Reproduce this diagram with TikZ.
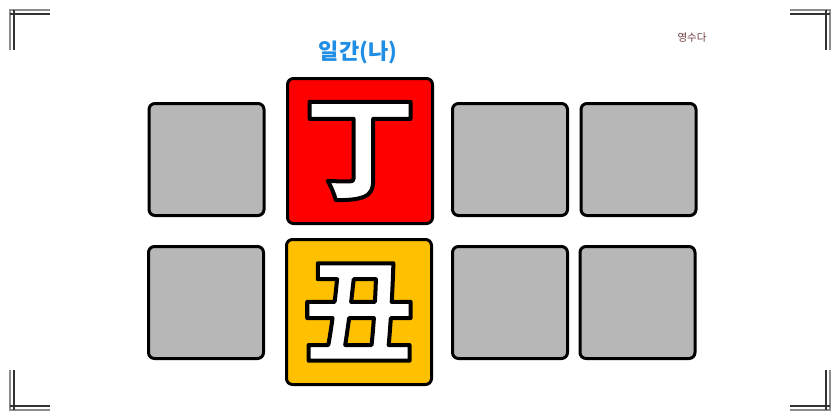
\documentclass[tikz,border=0pt]{standalone}
\usepackage{fontspec}
\newfontfamily\cjk{Noto Sans CJK KR}
\newcommand{\outlinedglyph}[1]{\special{pdf:code q 2 Tr 4 w 0 0 0 RG 1 j}#1\special{pdf:code Q}}
\definecolor{boxgray}{RGB}{183,183,183}
\definecolor{firered}{RGB}{255,0,0}
\definecolor{earthyellow}{RGB}{255,192,0}
\definecolor{labelblue}{RGB}{32,142,228}
\definecolor{signbrown}{RGB}{110,60,60}
\definecolor{markgray}{RGB}{140,140,140}
\definecolor{markdark}{RGB}{50,50,50}
\tikzset{
  pillar/.style={draw=black, line width=3pt, rounded corners=6pt, inner sep=0pt},
  graybox/.style={pillar, fill=boxgray, minimum width=115pt, minimum height=112pt},
  bigbox/.style={pillar, minimum width=145pt, minimum height=145pt, text=white,
    font=\cjk\bfseries\fontsize{112}{116}\selectfont},
  outer/.style={draw=markgray, line width=1.8pt},
  inner/.style={draw=markdark, line width=1.6pt}
}
\begin{document}
\begin{tikzpicture}[x=1pt,y=-1pt]
\useasboundingbox (0,0) rectangle (840,420);
% corner marks
\draw[outer] (10,50) -- (10,10) -- (50,10);
\draw[inner] (14,10) -- (14,50);
\draw[inner] (10,14) -- (50,14);
\draw[outer] (790,10) -- (830,10) -- (830,50);
\draw[inner] (826,10) -- (826,50);
\draw[inner] (790,14) -- (830,14);
\draw[outer] (10,370) -- (10,410) -- (50,410);
\draw[inner] (14,370) -- (14,410);
\draw[inner] (10,406) -- (50,406);
\draw[outer] (790,410) -- (830,410) -- (830,370);
\draw[inner] (826,370) -- (826,410);
\draw[inner] (790,406) -- (830,406);
% labels
\node[font=\cjk\bfseries\fontsize{22}{25}\selectfont, text=labelblue] (lbl) at (358,52) {일간(나)};
\node[font=\cjk\fontsize{10.5}{12}\selectfont, text=signbrown] (sign) at (692,38) {영수다};
% top row
\node[graybox] (t1) at (206.5,159.5) {};
\node[bigbox, fill=firered] (t2) at (360,151) {\outlinedglyph{丁}};
\node[graybox] (t3) at (510,159.5) {};
\node[graybox] (t4) at (638.5,159.5) {};
% bottom row
\node[graybox] (b1) at (206,302.5) {};
\node[bigbox, fill=earthyellow] (b2) at (359,312) {\outlinedglyph{丑}};
\node[graybox] (b3) at (510,302.5) {};
\node[graybox] (b4) at (637.5,302.5) {};
\end{tikzpicture}
\end{document}
